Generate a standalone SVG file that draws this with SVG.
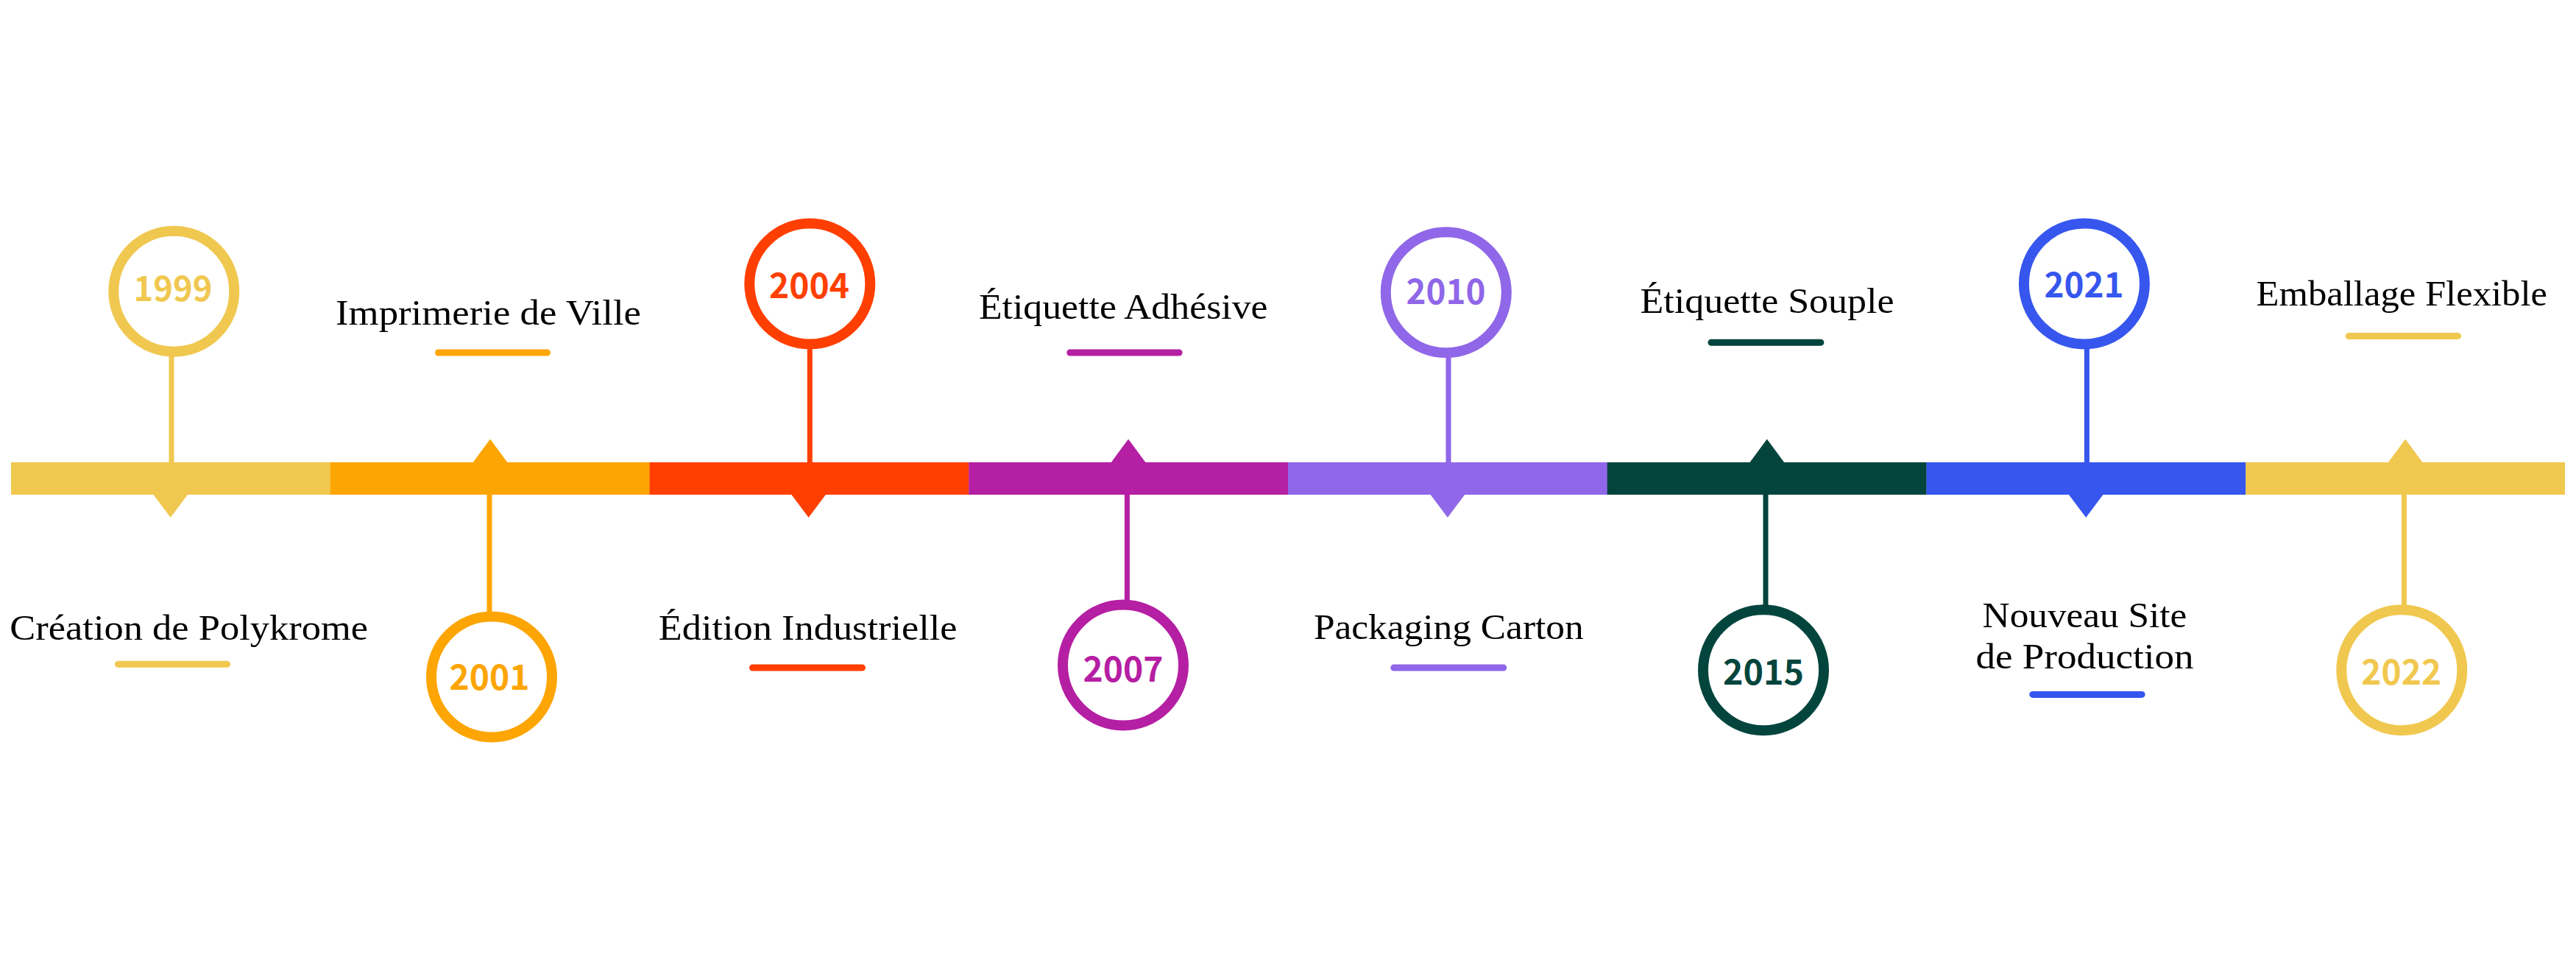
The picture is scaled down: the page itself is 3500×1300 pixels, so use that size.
<svg xmlns="http://www.w3.org/2000/svg" width="3500" height="1300" viewBox="0 0 3500 1300">
<style>
.lbl{font-family:"Liberation Serif","Times New Roman",serif;font-size:48px;fill:#000}
.yr{font-family:"Noto Sans CJK SC","Open Sans",sans-serif;font-weight:700;font-size:47px;text-anchor:middle}
.ring{fill:#fff;stroke-width:14}
.ul{stroke-width:9;stroke-linecap:round;fill:none}
.stem{stroke-width:7;fill:none}
.c1{fill:#F0C850}.s1{stroke:#F0C850}
.c2{fill:#FDA503}.s2{stroke:#FDA503}
.c3{fill:#FF3F01}.s3{stroke:#FF3F01}
.c4{fill:#B51FA3}.s4{stroke:#B51FA3}
.c5{fill:#8F67E8}.s5{stroke:#8F67E8}
.c6{fill:#03453D}.s6{stroke:#03453D}
.c7{fill:#3656EE}.s7{stroke:#3656EE}
</style>
<rect width="3500" height="1300" fill="#fff"/>
<g id="connectors">
<line class="stem s1" x1="233" y1="484" x2="233" y2="630"/>
<line class="stem s2" x1="665" y1="670" x2="665" y2="831"/>
<line class="stem s3" x1="1100.3" y1="474" x2="1100.3" y2="630"/>
<line class="stem s4" x1="1531.4" y1="670" x2="1531.4" y2="816"/>
<line class="stem s5" x1="1968" y1="485" x2="1968" y2="630"/>
<line class="stem s6" x1="2399" y1="670" x2="2399" y2="822"/>
<line class="stem s7" x1="2835.4" y1="474" x2="2835.4" y2="630"/>
<line class="stem s1" x1="3266.5" y1="670" x2="3266.5" y2="822"/>
</g>
<g id="timeline">
<rect class="c1" x="15" y="628" width="434" height="44"/>
<rect class="c2" x="448.75" y="628" width="434" height="44"/>
<rect class="c3" x="882.5" y="628" width="434" height="44"/>
<rect class="c4" x="1316.25" y="628" width="434" height="44"/>
<rect class="c5" x="1750" y="628" width="434" height="44"/>
<rect class="c6" x="2183.75" y="628" width="434" height="44"/>
<rect class="c7" x="2617.5" y="628" width="434" height="44"/>
<rect class="c1" x="3051.25" y="628" width="433.75" height="44"/>
<polygon class="c1" points="207.7,671 255.7,671 231.7,703"/>
<polygon class="c2" points="642,629 690,629 666,596.4"/>
<polygon class="c3" points="1074.6,671 1122.6,671 1098.6,703"/>
<polygon class="c4" points="1509.1,629 1557.1,629 1533.1,596.4"/>
<polygon class="c5" points="1942.9,671 1990.9,671 1966.9,703"/>
<polygon class="c6" points="2376.8,629 2424.8,629 2400.8,596.4"/>
<polygon class="c7" points="2810.2,671 2858.2,671 2834.2,703"/>
<polygon class="c1" points="3244.2,629 3292.2,629 3268.2,596.4"/>
</g>
<g id="n1999">
<circle class="ring s1" cx="236.3" cy="395.8" r="82"/>
<text class="yr c1" x="235" y="409" textLength="107" lengthAdjust="spacingAndGlyphs">1999</text>
<text class="lbl" x="13.3" y="869" textLength="486.7" lengthAdjust="spacingAndGlyphs">Création de Polykrome</text>
<line class="ul s1" x1="160.5" y1="902.3" x2="308.5" y2="902.3"/>
</g>
<g id="n2001">
<circle class="ring s2" cx="668" cy="919.5" r="82"/>
<text class="yr c2" x="665" y="937" textLength="109" lengthAdjust="spacingAndGlyphs">2001</text>
<text class="lbl" x="456" y="441" textLength="415" lengthAdjust="spacingAndGlyphs">Imprimerie de Ville</text>
<line class="ul s2" x1="595.5" y1="479" x2="743.5" y2="479"/>
</g>
<g id="n2004">
<circle class="ring s3" cx="1100.3" cy="385.5" r="82"/>
<text class="yr c3" x="1099.6" y="404.6" textLength="109" lengthAdjust="spacingAndGlyphs">2004</text>
<text class="lbl" x="894.8" y="869" textLength="405.8" lengthAdjust="spacingAndGlyphs">Édition Industrielle</text>
<line class="ul s3" x1="1022.5" y1="907" x2="1171.5" y2="907"/>
</g>
<g id="n2007">
<circle class="ring s4" cx="1526" cy="903.6" r="82"/>
<text class="yr c4" x="1526" y="926" textLength="109" lengthAdjust="spacingAndGlyphs">2007</text>
<text class="lbl" x="1329.9" y="432.7" textLength="392.7" lengthAdjust="spacingAndGlyphs">Étiquette Adhésive</text>
<line class="ul s4" x1="1453.8" y1="479" x2="1602.1" y2="479"/>
</g>
<g id="n2010">
<circle class="ring s5" cx="1964.8" cy="397.2" r="82"/>
<text class="yr c5" x="1964.5" y="413.3" textLength="108" lengthAdjust="spacingAndGlyphs">2010</text>
<text class="lbl" x="1784.9" y="868.4" textLength="366.8" lengthAdjust="spacingAndGlyphs">Packaging Carton</text>
<line class="ul s5" x1="1893.8" y1="907" x2="2042.7" y2="907"/>
</g>
<g id="n2015">
<circle class="ring s6" cx="2396" cy="910.2" r="82"/>
<text class="yr c6" x="2396" y="930" textLength="110" lengthAdjust="spacingAndGlyphs">2015</text>
<text class="lbl" x="2228.6" y="424.5" textLength="345" lengthAdjust="spacingAndGlyphs">Étiquette Souple</text>
<line class="ul s6" x1="2325" y1="465.3" x2="2473.8" y2="465.3"/>
</g>
<g id="n2021">
<circle class="ring s7" cx="2831.9" cy="385.5" r="82"/>
<text class="yr c7" x="2831.4" y="404" textLength="108" lengthAdjust="spacingAndGlyphs">2021</text>
<text class="lbl" x="2693.6" y="852" textLength="277.8" lengthAdjust="spacingAndGlyphs">Nouveau Site</text>
<text class="lbl" x="2684.4" y="908" textLength="296.2" lengthAdjust="spacingAndGlyphs">de Production</text>
<line class="ul s7" x1="2761.8" y1="943.4" x2="2910.1" y2="943.4"/>
</g>
<g id="n2022">
<circle class="ring s1" cx="3263.3" cy="910.2" r="82"/>
<text class="yr c1" x="3262.8" y="930" textLength="109" lengthAdjust="spacingAndGlyphs">2022</text>
<text class="lbl" x="3065.6" y="414.8" textLength="395.4" lengthAdjust="spacingAndGlyphs">Emballage Flexible</text>
<line class="ul s1" x1="3191.2" y1="456.6" x2="3339.5" y2="456.6"/>
</g>
</svg>
